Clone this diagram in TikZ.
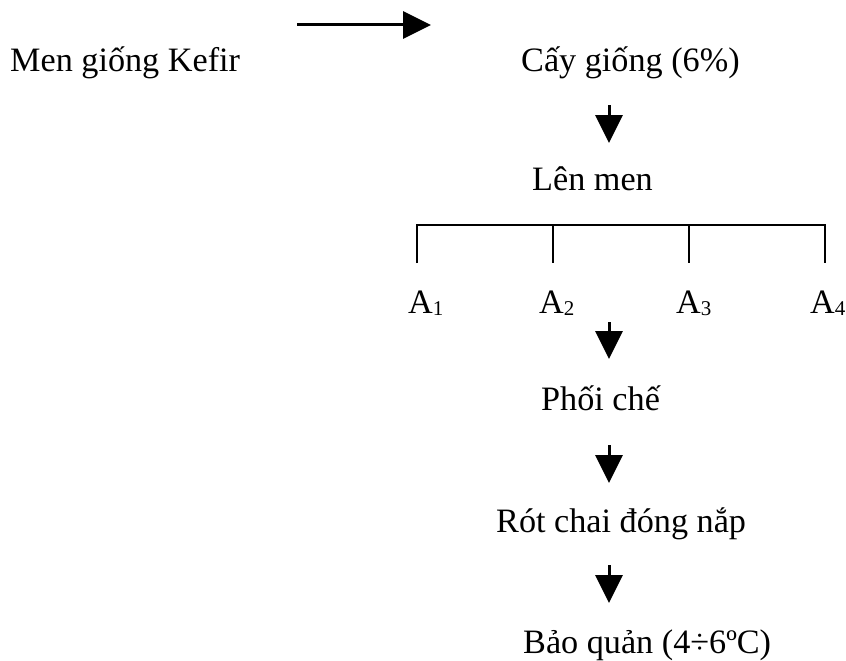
\documentclass[tikz,border=0pt]{standalone}
\usepackage{fontspec}
\setmainfont{Liberation Serif}
\usetikzlibrary{arrows.meta}
% small lowered index digit, as in A1..A4
\newcommand{\idx}[1]{\raisebox{-2pt}{\fontsize{21}{21}\selectfont #1}}
\begin{document}
\begin{tikzpicture}[x=1pt,y=-1pt,
  label/.style={inner sep=0pt,anchor=base west,font=\fontsize{34.2}{41}\selectfont},
  flow/.style={line width=3pt,-{Triangle[length=28pt,width=27pt]}},
  rail/.style={line width=2pt}]
\useasboundingbox (0,0) rectangle (846,661);

% step labels
\node[label] (kefir) at (10,72) {Men giống Kefir};
\node[label] (cay)   at (521,72) {Cấy giống (6\%)};
\node[label] (len)   at (532,190) {Lên men};
\node[label] (a1)    at (408,313) {A\idx{1}};
\node[label] (a2)    at (539,313) {A\idx{2}};
\node[label] (a3)    at (676,313) {A\idx{3}};
\node[label] (a4)    at (810,313) {A\idx{4}};
\node[label] (phoi)  at (541,410) {Phối chế};
\node[label] (rot)   at (496,532) {Rót chai đóng nắp};
\node[label] (bao)   at (523,653) {Bảo quản (4÷6ºC)};

% arrow ends
\coordinate (h0) at (297,25);  \coordinate (h1) at (431,25);
\coordinate (v0) at (609,105); \coordinate (v1) at (609,143);
\coordinate (w0) at (609,322); \coordinate (w1) at (609,359);
\coordinate (x0) at (609,445); \coordinate (x1) at (609,483);
\coordinate (y0) at (609,565); \coordinate (y1) at (609,603);

\draw[flow] (h0) -- (h1);
\draw[flow] (v0) -- (v1);
\draw[flow] (w0) -- (w1);
\draw[flow] (x0) -- (x1);
\draw[flow] (y0) -- (y1);

% branching bracket over the four samples
\coordinate (t1) at (417,225); \coordinate (b1) at (417,263);
\coordinate (t2) at (553,225); \coordinate (b2) at (553,263);
\coordinate (t3) at (689,225); \coordinate (b3) at (689,263);
\coordinate (t4) at (825,225); \coordinate (b4) at (825,263);
\draw[rail] (b1) -- (t1) -- (t4) -- (b4);
\draw[rail] (t2) -- (b2);
\draw[rail] (t3) -- (b3);
\end{tikzpicture}
\end{document}
